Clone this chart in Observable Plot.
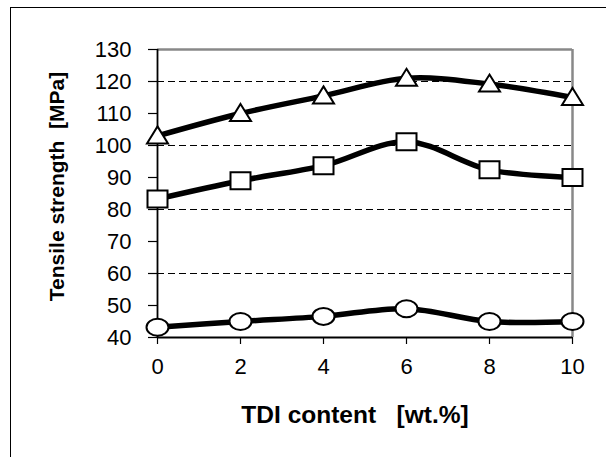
<!DOCTYPE html>
<html>
<head>
<meta charset="utf-8">
<script src="https://cdn.jsdelivr.net/npm/d3@7"></script>
<script src="https://cdn.jsdelivr.net/npm/@observablehq/plot@0.6"></script>
<style>
  html, body { margin: 0; padding: 0; background: #fff; }
  #wrap { position: relative; width: 606px; height: 457px; overflow: hidden; }
  #border { position: absolute; left: 10px; top: 7px; width: 700px; height: 600px;
            border-top: 1.2px solid #000; border-left: 1.2px solid #000; }
  #chart { position: absolute; left: 0; top: 0; }
</style>
</head>
<body>
<div id="wrap"><div id="border"></div><div id="chart"></div></div>
<script>
// Data
const tdi = [0, 2, 4, 6, 8, 10];
const seriesTriangle = [103, 110, 115.5, 121, 119.2, 115];
const seriesSquare = [83.3, 89, 93.7, 101.2, 92.4, 90];
const seriesCircle = [43.2, 45, 46.6, 49, 45, 45];
const xTicks = [0, 2, 4, 6, 8, 10];
const yTicks = [40, 50, 60, 70, 80, 90, 100, 110, 120, 130];
const gridValues = [60, 80, 100, 120];
const xTitle = "TDI content   [wt.%]";
const yTitle = "Tensile strength  [MPa]";

const rows = (ys, s) => tdi.map((x, i) => ({x, y: ys[i], s}));
const tri = rows(seriesTriangle, "triangle");
const sq = rows(seriesSquare, "square");
const circ = rows(seriesCircle, "circle");

const K = 0.5523;
const ellipseSym = {draw(c) { const a = 11, b = 8.5;
  c.moveTo(a, 0);
  c.bezierCurveTo(a, K*b, K*a, b, 0, b);
  c.bezierCurveTo(-K*a, b, -a, K*b, -a, 0);
  c.bezierCurveTo(-a, -K*b, -K*a, -b, 0, -b);
  c.bezierCurveTo(K*a, -b, a, -K*b, a, 0);
  c.closePath(); }};
const squareSym = {draw(c) { c.moveTo(-10, -8.5); c.lineTo(10, -8.5); c.lineTo(10, 8.5); c.lineTo(-10, 8.5); c.closePath(); }};
const triSym = {draw(c) { c.moveTo(0, -9.5); c.lineTo(10.5, 7.5); c.lineTo(-10.5, 7.5); c.closePath(); }};

const font = "'Liberation Sans', Arial, sans-serif";
const lineOpts = {x: "x", y: "y", stroke: "black", strokeWidth: 5.5, curve: "catmull-rom"};
const dotOpts = {x: "x", y: "y", fill: "white", stroke: "black", strokeWidth: 2, r: 10};

const plot = Plot.plot({
  width: 606,
  height: 457,
  marginLeft: 157,
  marginRight: 34,
  marginTop: 49,
  marginBottom: 120,
  style: {fontFamily: font, fontSize: "22px", background: "transparent", overflow: "visible", color: "black"},
  x: {domain: [0, 10], ticks: xTicks},
  y: {domain: [40, 130], ticks: yTicks},
  marks: [
    Plot.ruleY(gridValues, {stroke: "black", strokeWidth: 1.2, strokeDasharray: "7,4"}),
    Plot.ruleY([130], {stroke: "#888", strokeWidth: 2.5}),
    Plot.ruleX([10], {stroke: "#888", strokeWidth: 2.5}),
    Plot.axisX({ticks: xTicks, tickSize: 7, tickPadding: 14, fontSize: 22, label: null, stroke: "black", strokeWidth: 1.2}),
    Plot.axisY({ticks: yTicks, tickSize: 9, tickPadding: 17, fontSize: 22, label: null, stroke: "black", strokeWidth: 1.2}),
    Plot.ruleX([0], {stroke: "black", strokeWidth: 1.8}),
    Plot.ruleY([40], {stroke: "black", strokeWidth: 1.8}),
    Plot.line(tri, lineOpts),
    Plot.line(sq, lineOpts),
    Plot.line(circ, lineOpts),
    Plot.dot(tri, {...dotOpts, symbol: triSym}),
    Plot.dot(sq, {...dotOpts, symbol: squareSym}),
    Plot.dot(circ, {...dotOpts, symbol: ellipseSym}),
    Plot.text([xTitle], {frameAnchor: "bottom", dx: -10, dy: 78, text: d => d, fontSize: 24.5, fontWeight: "bold", lineAnchor: "middle", fill: "black"}),
    Plot.text([yTitle], {frameAnchor: "left", dx: -100, dy: -7, rotate: -90, text: d => d, fontSize: 21, fontWeight: "bold", lineAnchor: "middle", textAnchor: "middle", fill: "black"})
  ]
});
document.getElementById("chart").appendChild(plot);
</script>
</body>
</html>
